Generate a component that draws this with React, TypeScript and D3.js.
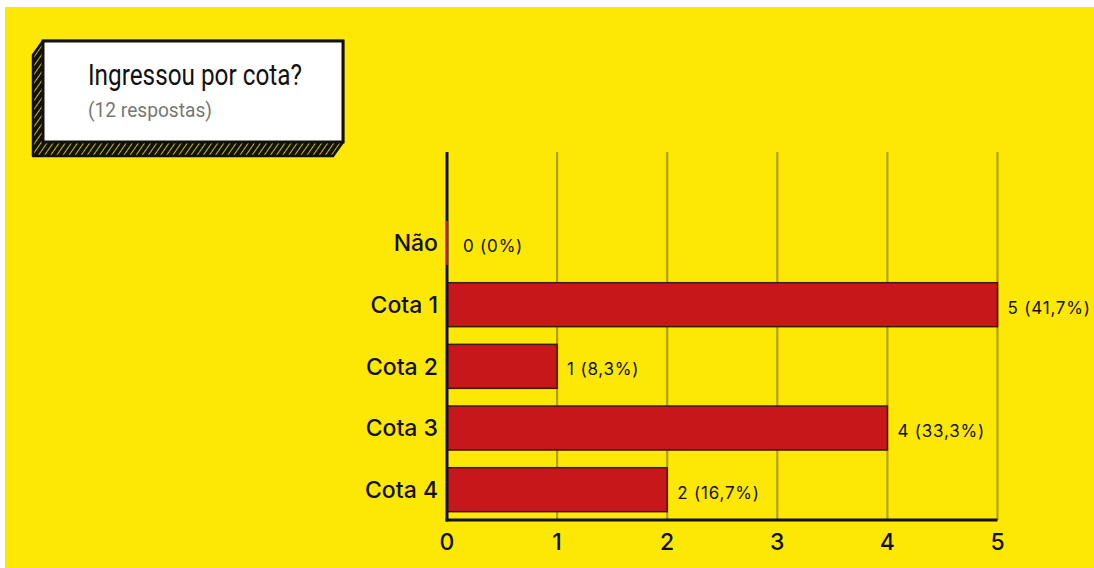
import React from "react";
import * as d3 from "d3";

const categories = ["Não", "Cota 1", "Cota 2", "Cota 3", "Cota 4"];
const values = [0, 5, 1, 4, 2];
const valueLabels = ["0 (0%)", "5 (41,7%)", "1 (8,3%)", "4 (33,3%)", "2 (16,7%)"];
const xTicks = [0, 1, 2, 3, 4, 5];
const title = "Ingressou por cota?";
const subtitle = "(12 respostas)";

const W = 1094;
const H = 568;
const YELLOW = "#FDE805";
const RED = "#C8171A";
const GRID = "#B3A100";

export default function App() {
  const x = d3.scaleLinear().domain([0, 5]).range([447, 997.5]);
  const y = d3
    .scaleBand<string>()
    .domain(categories)
    .range([212.7, 520])
    .paddingInner(0.287)
    .paddingOuter(0.135);
  const axisTop = 152;
  const axisBottom = 520;
  const labelFont = "Inter, 'Noto Sans', sans-serif";

  return (
    <svg
      width={W}
      height={H}
      style={{ position: "absolute", left: 0, top: 0, display: "block" }}
    >
      <defs>
        <pattern
          id="hatch"
          width="5"
          height="5"
          patternUnits="userSpaceOnUse"
          patternTransform="rotate(35)"
        >
          <rect width="5" height="5" fill="#111" />
          <line x1="0" y1="0" x2="0" y2="5" stroke={YELLOW} strokeWidth="1.6" />
        </pattern>
      </defs>
      <rect x={0} y={0} width={W} height={H} fill="#ffffff" />
      <rect x={5} y={7} width={W - 5} height={H - 7} fill={YELLOW} />

      {/* title box with 3D hatched depth */}
      <polygon
        points="43,41 343,41 343,142 333,156 33,156 33,55"
        fill="url(#hatch)"
        stroke="#111"
        strokeWidth={2.5}
        strokeLinejoin="round"
      />
      <rect x={43} y={41} width={300} height={101} fill="#ffffff" stroke="#111" strokeWidth={3} />
      <text
        x={88}
        y={84.5}
        fontFamily="Roboto, 'Noto Sans', sans-serif"
        fontSize={30}
        fill="#111"
        textLength={214}
        lengthAdjust="spacingAndGlyphs"
      >
        {title}
      </text>
      <text
        x={88}
        y={116.5}
        fontFamily="Roboto, 'Noto Sans', sans-serif"
        fontSize={21}
        fill="#777"
        textLength={124}
        lengthAdjust="spacingAndGlyphs"
      >
        {subtitle}
      </text>

      {/* gridlines */}
      {xTicks
        .filter((t) => t > 0)
        .map((t) => (
          <line
            key={"g" + t}
            x1={x(t)}
            x2={x(t)}
            y1={axisTop}
            y2={axisBottom}
            stroke={GRID}
            strokeWidth={2.2}
          />
        ))}

      {/* bars */}
      {categories.map((c, i) => (
        <rect
          key={"b" + c}
          x={x(0)}
          y={y(c)}
          width={x(values[i]) - x(0)}
          height={y.bandwidth()}
          fill={RED}
          stroke={values[i] === 0 ? RED : "#3a1a0c"}
          strokeWidth={values[i] === 0 ? 2.5 : 1.5}
        />
      ))}

      {/* axes */}
      <line x1={x(0)} x2={x(0)} y1={axisTop} y2={axisBottom + 1.5} stroke="#111" strokeWidth={3} />
      <line x1={x(0) - 1.5} x2={x(5)} y1={axisBottom} y2={axisBottom} stroke="#111" strokeWidth={3} />
      {categories.map((c, i) =>
        values[i] === 0 ? (
          <line
            key={"z" + c}
            x1={x(0)}
            x2={x(0)}
            y1={y(c)!}
            y2={y(c)! + y.bandwidth()}
            stroke={RED}
            strokeWidth={2}
          />
        ) : null
      )}

      {/* category labels */}
      {categories.map((c) => (
        <text
          key={"c" + c}
          x={438}
          y={y(c)! + y.bandwidth() / 2}
          dy="0.36em"
          textAnchor="end"
          fontFamily={labelFont}
          fontWeight={500}
          fontSize={23}
          fill="#111"
        >
          {c}
        </text>
      ))}

      {/* value labels */}
      {categories.map((c, i) => (
        <text
          key={"v" + c}
          x={x(values[i]) + (values[i] === 0 ? 16 : 10)}
          y={y(c)! + y.bandwidth() / 2 + 3}
          dy="0.36em"
          fontFamily={labelFont}
          fontSize={17}
          letterSpacing={0.8}
          fill="#111"
        >
          {valueLabels[i]}
        </text>
      ))}

      {/* x tick labels */}
      {xTicks.map((t) => (
        <text
          key={"t" + t}
          x={x(t)}
          y={550}
          textAnchor="middle"
          fontFamily={labelFont}
          fontWeight={500}
          fontSize={23}
          fill="#111"
        >
          {t}
        </text>
      ))}
    </svg>
  );
}
